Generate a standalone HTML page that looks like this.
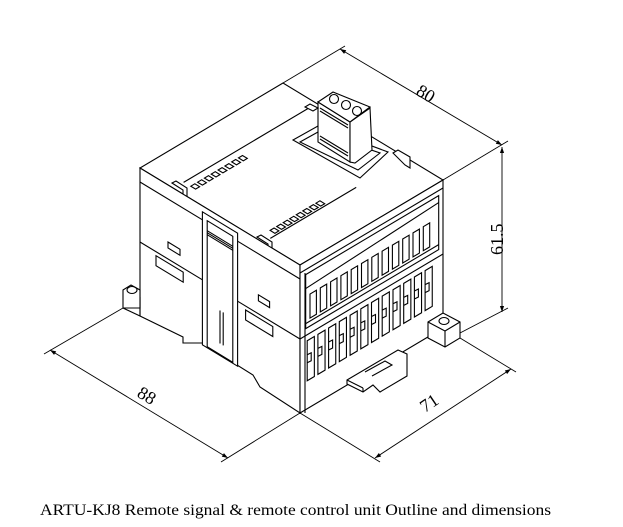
<!DOCTYPE html>
<html><head><meta charset="utf-8"><style>
html,body{margin:0;padding:0;background:#fff;}
svg{display:block;}
.l{fill:none;stroke:#000;stroke-width:1.1;}
.w{fill:#fff;stroke:#000;stroke-width:1.1;}
.t{font-family:"Liberation Serif",serif;font-size:18px;fill:#000;}
</style></head><body>
<svg width="623" height="527" viewBox="0 0 623 527" xmlns="http://www.w3.org/2000/svg">
<defs>
<marker id="a" viewBox="0 0 10 10" refX="10" refY="5" markerWidth="9" markerHeight="6" orient="auto-start-reverse" markerUnits="userSpaceOnUse"><path d="M0,1.5 L10,5 L0,8.5 z" fill="#000"/></marker>
<polygon id="led" class="l" points="0,0 -4,2.4 0.8,5.3 4.8,2.9"/>
<polygon id="us" class="l" points="0,0 6.4,-3.8 6.4,20.2 0,24"/>
<g id="ls"><polygon class="l" points="0,0 7.15,-4.25 7.15,35.75 0,40"/><polyline class="l" points="0,14 4,12 4,20 0,22"/></g>
</defs>

<!-- TOP FACE -->
<polygon class="w" points="283,83 140,168 300,265 443,180"/>
<line class="l" x1="309.5" y1="107.6" x2="183.6" y2="182.4"/>
<line class="l" x1="356.2" y1="187.4" x2="270.3" y2="238.4"/>
<use href="#led" x="242.5" y="155.5"/><use href="#led" x="235.7" y="159.5"/><use href="#led" x="228.9" y="163.6"/><use href="#led" x="222.1" y="167.6"/>
<use href="#led" x="215.2" y="171.7"/><use href="#led" x="208.4" y="175.7"/><use href="#led" x="201.6" y="179.8"/><use href="#led" x="194.8" y="183.8"/>
<use href="#led" x="319.9" y="200.8"/><use href="#led" x="313.4" y="204.6"/><use href="#led" x="306.8" y="208.5"/><use href="#led" x="300.3" y="212.4"/>
<use href="#led" x="293.7" y="216.3"/><use href="#led" x="287.2" y="220.2"/><use href="#led" x="280.7" y="224.1"/><use href="#led" x="274.1" y="228.0"/>

<!-- opening + connector -->
<polygon class="w" points="293,140 318,126 388,152 360,178"/>
<polygon class="l" points="300,142 318,132 380,153 358,170"/>
<polygon class="w" points="318,102 350,122 350,162 318,142"/>
<polygon class="w" points="350,122 370,108 372,150 355,163 350,162"/>
<polygon class="w" points="318,102 333,92 370,107 350,122"/>
<circle class="l" cx="334" cy="99" r="4.5"/><circle class="l" cx="346" cy="105" r="4.5"/><circle class="l" cx="357" cy="111" r="4.5"/>
<g class="l"><line x1="320" y1="108" x2="348" y2="125"/><line x1="320" y1="111" x2="348" y2="128"/><line x1="320" y1="136" x2="348" y2="153"/><line x1="320" y1="139" x2="348" y2="156"/></g>
<polygon class="w" points="305,107 310,104 318,108 313,111"/>
<!-- top clips -->
<polygon class="w" points="172,183 176,181 187,188 187,207 183,205 183,190"/>
<polygon class="w" points="257,237 261,235 272,242 272,255 268,253 268,244"/>
<polygon class="w" points="393,153 398,150 410,157 410,168 405,165"/>

<!-- LEFT FACE -->
<polygon class="w" points="140,168 300,265 300,413 260,387 253,375 202,343 183,343 183,337 140,316"/>
<line class="l" x1="140" y1="182" x2="202.4" y2="219.8"/>
<line class="l" x1="237.6" y1="241.2" x2="300" y2="279"/>
<line class="l" x1="140" y1="242" x2="202.4" y2="279.8"/>
<line class="l" x1="237.6" y1="301.2" x2="300" y2="339"/>
<polygon class="w" points="202.4,211.8 237.6,233.2 237.6,366.2 202.4,344.8"/>
<polygon class="l" points="207.2,220.7 232.8,236.3 232.8,362.3 207.2,346.7"/>
<line class="l" x1="207.2" y1="230.7" x2="232.8" y2="246.3"/>
<line class="l" x1="207.2" y1="232.7" x2="232.8" y2="248.3"/>
<line class="l" x1="207.2" y1="234.7" x2="232.8" y2="250.3"/>
<line class="l" x1="220" y1="310.5" x2="220" y2="343.5"/>
<line class="l" x1="223.2" y1="312.4" x2="223.2" y2="345.4"/>
<polygon class="l" points="168,242 180,249.3 180,255.3 168,248"/>
<polygon class="l" points="258.4,294.8 269.6,301.6 269.6,307.6 258.4,300.8"/>
<polygon class="l" points="156,255.7 183.2,272.2 183.2,282.2 156,265.7"/>
<polygon class="l" points="245.6,310 272.8,326.5 272.8,336.5 245.6,320"/>
<line class="l" x1="140" y1="297" x2="140" y2="316"/>
<!-- left foot -->
<polygon class="w" points="123,290 131,285 140,290 140,308 123,308"/>
<ellipse class="l" cx="132" cy="290" rx="5" ry="3.5"/>
<line class="l" x1="123" y1="308" x2="140" y2="316"/>

<!-- RIGHT FACE -->
<polygon class="w" points="300,265 443,180 443,328 300,413"/>
<line class="l" x1="300" y1="273" x2="443" y2="188"/>
<polygon class="l" points="305.7,274.6 438.7,195.6 438.7,249.6 305.7,328.6"/>
<line class="l" x1="305.7" y1="288.6" x2="438.7" y2="202.6"/>
<line class="l" x1="305.7" y1="323.6" x2="438.7" y2="244.6"/>
<line class="l" x1="300" y1="339" x2="443" y2="254"/>
<use href="#us" x="310.0" y="294.05"/><use href="#us" x="320.3" y="287.9"/><use href="#us" x="330.6" y="281.8"/><use href="#us" x="340.9" y="275.7"/>
<use href="#us" x="351.2" y="269.6"/><use href="#us" x="361.5" y="263.5"/><use href="#us" x="371.8" y="257.3"/><use href="#us" x="382.1" y="251.2"/>
<use href="#us" x="392.4" y="245.1"/><use href="#us" x="402.7" y="239.0"/><use href="#us" x="413.0" y="232.9"/><use href="#us" x="423.3" y="226.7"/>
<use href="#ls" x="307.2" y="340.75"/><use href="#ls" x="317.9" y="334.4"/><use href="#ls" x="328.6" y="328"/><use href="#ls" x="339.3" y="321.6"/>
<use href="#ls" x="350.1" y="315.25"/><use href="#ls" x="360.8" y="308.9"/><use href="#ls" x="371.5" y="302.5"/><use href="#ls" x="382.2" y="296.1"/>
<use href="#ls" x="393" y="289.75"/><use href="#ls" x="403.7" y="283.4"/><use href="#ls" x="414.4" y="277"/><use href="#ls" x="425.1" y="270.6"/>
<line class="l" x1="305" y1="273" x2="305" y2="413"/>
<!-- DIN clip -->
<polygon class="w" points="347,380 398,350 407,354 407,376 380,392 373,385 363,392 347,384"/>
<polyline class="l" points="365,372 385,361 392,365 372,376"/>
<line class="l" x1="347" y1="380" x2="363" y2="388"/><line class="l" x1="363" y1="388" x2="363" y2="392"/>
<!-- right foot -->
<polygon class="w" points="428,322 443,313 460,322 460,338 445,347 428,338"/>
<line class="l" x1="428" y1="322" x2="445" y2="331"/><line class="l" x1="445" y1="331" x2="460" y2="322"/><line class="l" x1="445" y1="331" x2="445" y2="347"/>
<ellipse class="l" cx="444" cy="321" rx="5" ry="3.5"/>

<!-- DIMENSIONS -->
<g class="l" style="stroke-width:0.9">
<line x1="283" y1="83" x2="345" y2="46"/>
<line x1="443" y1="180" x2="508" y2="141"/>
<line x1="340" y1="49" x2="502" y2="145" marker-start="url(#a)" marker-end="url(#a)"/>
<line x1="502" y1="147" x2="502" y2="312" marker-start="url(#a)" marker-end="url(#a)"/>
<line x1="460" y1="333" x2="508" y2="308"/>
<line x1="460" y1="338" x2="516" y2="372"/>
<line x1="300" y1="413" x2="380" y2="462"/>
<line x1="511" y1="369" x2="375" y2="458" marker-start="url(#a)" marker-end="url(#a)"/>
<line x1="123" y1="308" x2="44" y2="354"/>
<line x1="300" y1="413" x2="221" y2="462"/>
<line x1="50" y1="350" x2="228" y2="458" marker-start="url(#a)" marker-end="url(#a)"/>
</g>
<text class="t" transform="translate(415,94) rotate(31)">80</text>
<text class="t" transform="translate(503,255) rotate(-90)">61.5</text>
<text class="t" transform="translate(425,413) rotate(-34)">71</text>
<text class="t" transform="translate(136,396) rotate(31)">88</text>

<text x="40" y="515" font-family="Liberation Serif, serif" font-size="15.5" textLength="511" lengthAdjust="spacingAndGlyphs">ARTU-KJ8 Remote signal &amp; remote control unit Outline and dimensions</text>
</svg>
</body></html>
